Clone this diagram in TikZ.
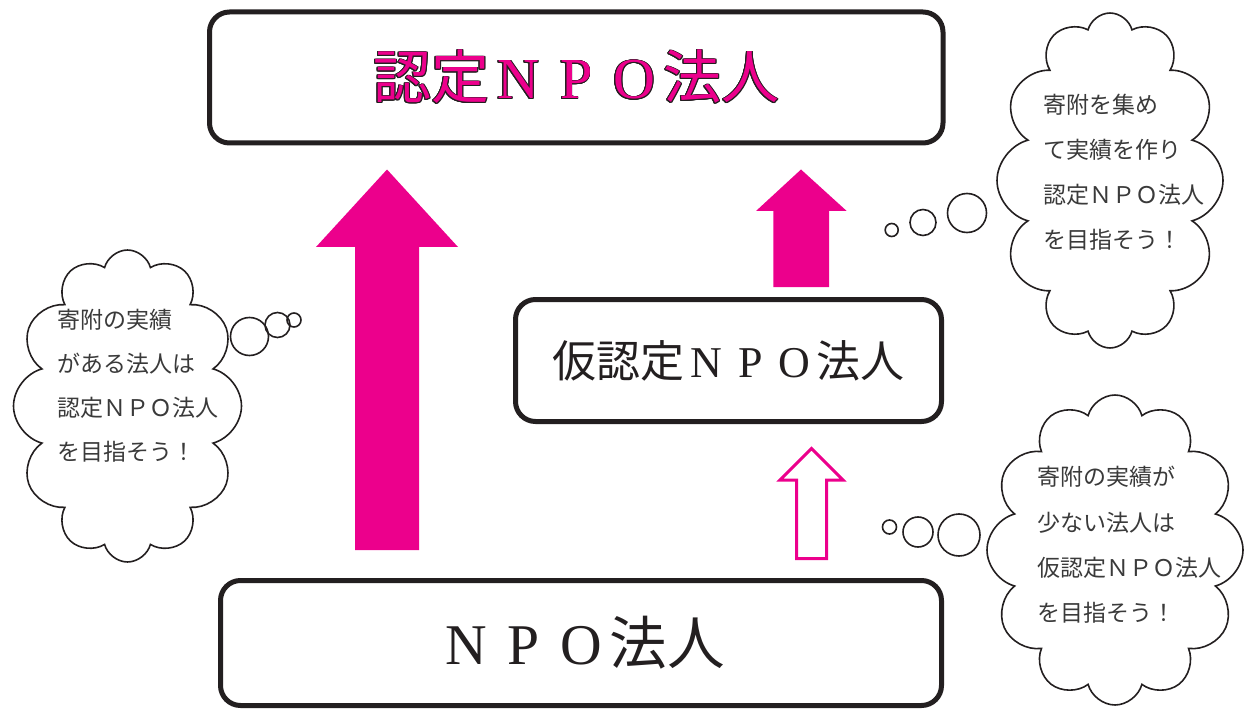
\documentclass[tikz,border=0pt]{standalone}
\usepackage{fontspec}
\usepackage{contour}
\usetikzlibrary{shapes.symbols}
\newfontfamily\jp{Noto Sans CJK JP}
\newfontfamily\lser{Liberation Serif}
\definecolor{mag}{HTML}{EC008C}
\definecolor{ink}{HTML}{231F20}
\definecolor{txt}{HTML}{3A3A3A}
\newcommand\npoS{\makebox[1em]{\lser N}\makebox[1em]{\lser P}\makebox[1em]{\lser O}}
\contourlength{0.9pt}
\begin{document}
\begin{tikzpicture}[x=1pt,y=-1pt,
  box/.style={draw=ink, line width=5pt, rounded corners=20pt, inner sep=0pt},
  cloudnode/.style={cloud, draw=ink, line width=1.6pt, cloud ignores aspect, inner sep=0pt,
                    cloud puffs=12, cloud puff arc=150},
  bubble/.style={circle, draw=ink, line width=1.6pt, inner sep=0pt},
  ctext/.style={font=\jp\fontsize{23}{23}\selectfont, text=txt, anchor=base west, inner sep=0pt},
  solidarrow/.style={fill=mag},
  hollowarrow/.style={draw=mag, line width=3pt, fill=white, line join=miter}
]
\useasboundingbox (0,0) rectangle (1248,714);

% boxes
\node[box, minimum width=733.5pt, minimum height=131pt,
      font=\jp\fontsize{58}{60}\selectfont] (top) at (576.25,77.5)
      {\contour{ink}{\color{mag}認定\npoS 法人}};
\node[box, minimum width=426pt, minimum height=122pt,
      font=\jp\fontsize{44}{46}\selectfont, text=ink] (mid) at (728.5,360.5)
      {仮認定\npoS 法人};
\node[box, minimum width=721pt, minimum height=125pt,
      font=\jp\fontsize{57.6}{60}\selectfont, text=ink] (bot) at (581,643)
      {\npoS 法人};

% arrows
\fill[solidarrow] (355,550) -- (419,550) -- (419,247) -- (458,247) -- (387,169.5)
   -- (316,247) -- (355,247) -- cycle;
\fill[solidarrow] (773.3,287) -- (829,287) -- (829,211) -- (846.7,211) -- (801,169.5)
   -- (756,211) -- (773.3,211) -- cycle;
\draw[hollowarrow] (796.5,558.5) -- (826.5,558.5) -- (826.5,480) -- (843,480) -- (811.5,448.5)
   -- (780,480) -- (796.5,480) -- cycle;

% left cloud
\node[cloudnode, minimum width=228pt, minimum height=312pt] (lc) at (127.5,406) {};
\node[bubble, minimum size=38pt] (lb1) at (249.5,336.5) {};
\node[bubble, minimum size=25pt] (lb2) at (277.5,325) {};
\node[bubble, minimum size=14pt] (lb3) at (294,320) {};
\foreach \t [count=\i] in {寄附の実績,がある法人は,認定ＮＰＯ法人,を目指そう！}
  \node[ctext] (lt\i) at (57,{320+44*(\i-1)+8.7}) {\t};

% upper right cloud
\node[cloudnode, minimum width=226pt, minimum height=335pt] (uc) at (1110,180.5) {};
\node[bubble, minimum size=39pt] (ub1) at (967,213) {};
\node[bubble, minimum size=26pt] (ub2) at (923,222.5) {};
\node[bubble, minimum size=13pt] (ub3) at (891.7,230) {};
\foreach \t [count=\i] in {寄附を集め,て実績を作り,認定ＮＰＯ法人,を目指そう！}
  \node[ctext] (ut\i) at (1043,{105+45*(\i-1)+8.7}) {\t};

% lower right cloud
\node[cloudnode, minimum width=256pt, minimum height=310pt] (rc) at (1115,550) {};
\node[bubble, minimum size=42pt] (rb1) at (959,535) {};
\node[bubble, minimum size=30pt] (rb2) at (918,532) {};
\node[bubble, minimum size=14pt] (rb3) at (889.5,527) {};
\foreach \t [count=\i] in {寄附の実績が,少ない法人は,仮認定ＮＰＯ法人,を目指そう！}
  \node[ctext] (rt\i) at (1037,{477+45.3*(\i-1)+8.7}) {\t};
\end{tikzpicture}
\end{document}
